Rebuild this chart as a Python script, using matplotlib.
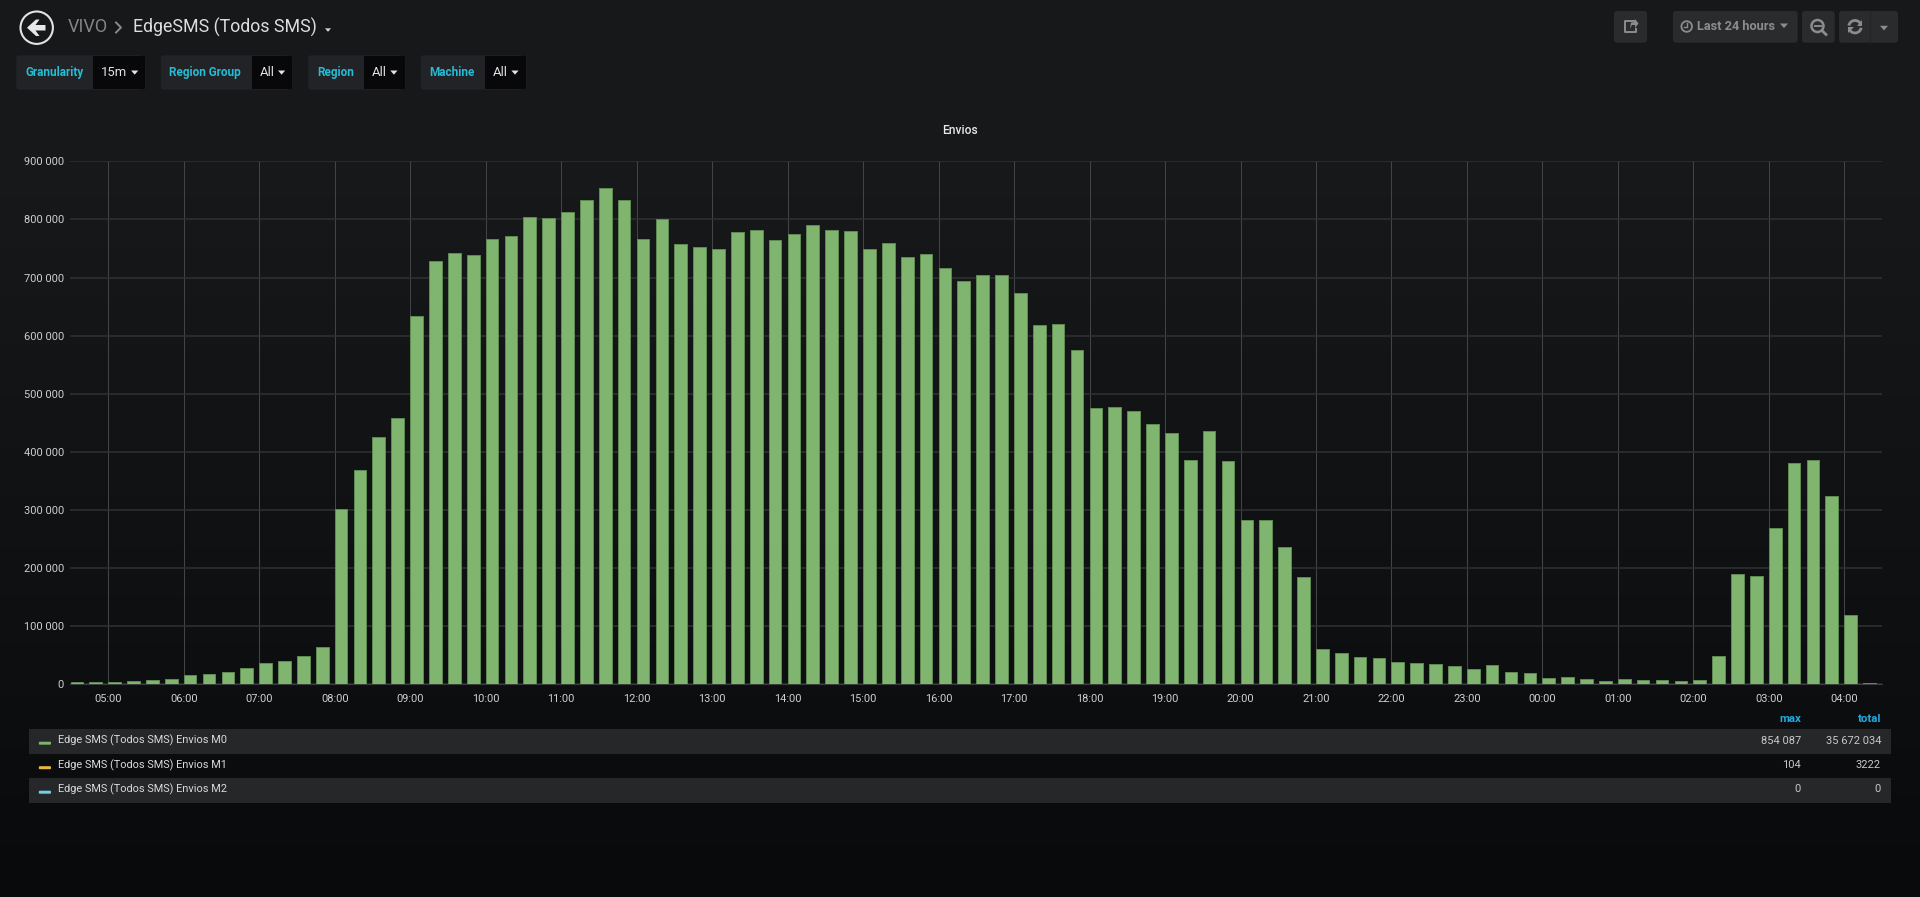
import numpy as np
import matplotlib
matplotlib.use("Agg")
import matplotlib.pyplot as plt
from matplotlib.patches import FancyBboxPatch, Rectangle, Circle, Arc, Polygon
from matplotlib.ticker import FuncFormatter

# -------------------------------
# DATA
# -------------------------------
envios_m0 = [
    3400, 3400, 4600, 5200, 6900, 8600, 15500, 17200, 21800, 27500, 36700, 40700,
    49300, 64700, 302000, 368400, 426000, 458000, 634000, 727800, 742000, 738000,
    765600, 772000, 805000, 801700, 812000, 832700, 854087, 834000, 766800, 800000,
    757000, 751900, 748400, 777600, 781000, 764500, 774800, 789700, 782000, 780500,
    749600, 758700, 735800, 739800, 716900, 693400, 703700, 704900, 673900, 617800,
    619500, 575900, 474800, 477400, 470500, 447800, 431600, 386800, 436600, 383900,
    283000, 283000, 235500, 185000, 60000, 54400, 47600, 45800, 37800, 36100,
    35000, 32000, 26400, 33200, 21200, 19500, 10900, 12000, 9200, 5700,
    8600, 6900, 6900, 5700, 7400, 48000, 189000, 186000, 268700, 381600,
    386000, 323700, 119000, 2900,
]
hour_labels = ["05:00", "06:00", "07:00", "08:00", "09:00", "10:00", "11:00", "12:00",
               "13:00", "14:00", "15:00", "16:00", "17:00", "18:00", "19:00", "20:00",
               "21:00", "22:00", "23:00", "00:00", "01:00", "02:00", "03:00", "04:00"]
y_ticks = [0, 100000, 200000, 300000, 400000, 500000, 600000, 700000, 800000, 900000]

legend_names = ["Edge SMS (Todos SMS) Envios M0", "Edge SMS (Todos SMS) Envios M1",
                "Edge SMS (Todos SMS) Envios M2"]
legend_colors = ["#7EB26D", "#EAB839", "#6ED0E0"]
legend_max = ["854 087", "104", "0"]
legend_total = ["35 672 034", "3222", "0"]

# label, value, label box left, split, right, label x, value x, caret x
variables = [
    ("Granularity", "15m", 16.3, 93, 145.7, 25, 101, 134.7),
    ("Region Group", "All", 160.8, 251.8, 292.7, 169.4, 259.6, 281.6),
    ("Region", "All", 308.2, 363.7, 405.7, 317.6, 371.8, 393.9),
    ("Machine", "All", 420.8, 484.5, 526.5, 429.4, 493, 515),
]

# -------------------------------
# STYLE
# -------------------------------
plt.rcParams["font.family"] = ["Roboto", "DejaVu Sans"]
W, H = 1920, 897
PX = 0.72  # px to pt at dpi 100
BAR_GREEN = "#80B570"
BAR_EDGE = "#5F8C53"
CYAN = "#24BCD6"
BLUE = "#23A8DC"
BTN = "#2A2B2D"
ICON = "#8C8C8C"

fig = plt.figure(figsize=(W / 100, H / 100), dpi=100)

# page background, pixel coordinates
ui = fig.add_axes([0, 0, 1, 1])
ui.axis("off")
fade = np.interp(np.linspace(0, 1, 300), [0, 0.22, 1], [0, 0, 1])[:, None, None]
top, bottom = np.array([23, 24, 26]), np.array([9, 10, 12])
ui.imshow((top + (bottom - top) * fade).astype(np.uint8), extent=[0, W, H, 0],
          aspect="auto", interpolation="bilinear")
ui.set_xlim(0, W)
ui.set_ylim(H, 0)


def box(x0, x1, y0, y1, color, r=3):
    ui.add_patch(FancyBboxPatch((x0, y0), x1 - x0, y1 - y0, boxstyle=f"round,pad=0,rounding_size={r}",
                                fc=color, ec="none"))


def caret(x, y, size, color):
    ui.add_patch(Polygon([(x - size, y - size * 0.55), (x + size, y - size * 0.55), (x, y + size * 0.6)],
                         fc=color, ec="none"))


# -------------------------------
# HEADER
# -------------------------------
ui.add_patch(Circle((36.7, 27.7), 16.2, fc="none", ec="#E3E3E3", lw=1.5))
ui.add_patch(Polygon([(27, 27.7), (36, 19.5), (39.5, 19.5), (35.5, 25), (45.5, 25), (45.5, 30.5), (35.5, 30.5),
                      (39.5, 36), (36, 36)], fc="#E8E8E8", ec="none"))
ui.text(67.3, 27.5, "VIVO", color="#858585", fontsize=18 * PX, va="center")
ui.plot([116, 121, 116], [22.5, 27.5, 32.5], color="#8A8A8A", lw=1.4)
ui.text(132.6, 27.5, "EdgeSMS (Todos SMS)", color="#DEDEDE", fontsize=17.7 * PX, va="center")
caret(328, 30, 3, "#D8D9DA")

for label, value, x0, x1, x2, tx, vx, cx in variables:
    box(x0, x2, 55.3, 89.7, "#212326")
    ui.add_patch(Rectangle((x1, 55.6), x2 - x1 - 2, 33.8, fc="#08080A", ec="none"))
    box(x2 - 6, x2 - 0.5, 55.6, 89.4, "#08080A", r=2)
    ui.text(tx, 72.5, label, color=CYAN, fontsize=11.8 * PX, va="center", fontweight="bold")
    ui.text(vx, 73, value, color="#E3E3E3", fontsize=13 * PX, va="center")
    caret(cx, 72.5, 3.6, "#E3E3E3")

# top right buttons
box(1614, 1647, 11, 42.7, BTN)
box(1673, 1797.7, 11, 42.7, BTN)
box(1802, 1834.7, 11, 42.7, BTN)
box(1839, 1898, 11, 42.7, BTN)
ui.plot([1870, 1870], [11, 42.7], color="#232426", lw=0.8)

# share icon
ui.plot([1635, 1625, 1625, 1636, 1636], [21, 21, 32.5, 32.5, 29], color=ICON, lw=1.4)
ui.add_patch(Polygon([(1630, 29), (1631, 22.5), (1635, 22), (1635, 19), (1638.5, 23.5), (1635, 28), (1635, 25),
                      (1632, 25)], fc=ICON, ec="none"))
# time picker
ui.add_patch(Circle((1686.7, 26.5), 5.3, fc="none", ec=ICON, lw=1.3))
ui.plot([1686.7, 1686.7, 1684], [23, 27, 27], color=ICON, lw=1)
ui.text(1696.7, 26.7, "Last 24 hours", color=ICON, fontsize=12.8 * PX, va="center", fontweight="bold")
caret(1784, 25.7, 4, ICON)
# zoom out icon
ui.add_patch(Circle((1817.5, 26), 6, fc="none", ec=ICON, lw=1.8))
ui.plot([1814.5, 1820.5], [26, 26], color=ICON, lw=1.4)
ui.plot([1822, 1826], [30.5, 34.5], color=ICON, lw=2)
# refresh icon
ui.add_patch(Arc((1855, 26.7), 12.5, 12.5, theta1=190, theta2=340, ec=ICON, lw=2))
ui.add_patch(Arc((1855, 26.7), 12.5, 12.5, theta1=10, theta2=160, ec=ICON, lw=2))
ui.add_patch(Polygon([(1862, 20), (1862, 26.5), (1856.5, 26.5)], fc=ICON, ec="none"))
ui.add_patch(Polygon([(1848, 33.5), (1848, 27), (1853.5, 27)], fc=ICON, ec="none"))
caret(1884, 28, 4, ICON)

# -------------------------------
# CHART
# -------------------------------
ax_left, ax_right, ax_top, ax_bottom = 70, 1882, 161.3, 684.3
ax = fig.add_axes([ax_left / W, 1 - ax_bottom / H, (ax_right - ax_left) / W, (ax_bottom - ax_top) / H])
ax.patch.set_alpha(0)

hours = np.arange(len(envios_m0)) * 0.25 - 0.5
ax.bar(hours, envios_m0, width=0.168, align="edge", color=BAR_GREEN, edgecolor=BAR_EDGE,
       linewidth=0.7, zorder=3)

hour_ticks = np.arange(len(hour_labels))
ax.set_xticks(hour_ticks)
ax.set_xticklabels(hour_labels)
ax.set_yticks(y_ticks)
ax.yaxis.set_major_formatter(FuncFormatter(lambda v, _: f"{int(v):,}".replace(",", " ")))
# 05:00 sits at pixel 108.3, one hour is 75.48 pixels
ax.set_xlim((ax_left - 108.3) / 75.48, (ax_right - 108.3) / 75.48)
ax.set_ylim(0, 900000)

ax.grid(axis="x", color="#434446", linewidth=0.75, zorder=0)
ax.grid(axis="y", color="#303133", linewidth=1.1, zorder=0)
ax.set_axisbelow(True)
for name in ["top", "left", "right"]:
    ax.spines[name].set_visible(False)
ax.spines["bottom"].set_color("#3C3D3F")
ax.spines["bottom"].set_linewidth(0.8)
ax.tick_params(axis="both", length=0, labelsize=11 * PX, labelcolor="#CFCFCF")
ax.tick_params(axis="x", pad=7)
ax.tick_params(axis="y", pad=6 * PX)
ax.set_title("Envios", color="#E9E9E9", fontsize=12 * PX, fontweight="medium", x=0.4914, y=1, pad=20)

# -------------------------------
# LEGEND
# -------------------------------
ui.text(1801, 719.5, "max", color=BLUE, fontsize=11.5 * PX, fontweight="bold", ha="right", va="center")
ui.text(1881, 719.5, "total", color=BLUE, fontsize=11.5 * PX, fontweight="bold", ha="right", va="center")
row_tops = [729, 754, 778]
row_bottoms = [754, 778, 803]
for i, name in enumerate(legend_names):
    if i != 1:
        ui.add_patch(Rectangle((29, row_tops[i]), 1862, row_bottoms[i] - row_tops[i], fc="#262729", ec="none"))
    mid = (row_tops[i] + row_bottoms[i]) / 2
    box(38.8, 51, mid + 0.2, mid + 3.2, legend_colors[i], r=1)
    ui.text(58, mid - 1, name, color="#D8D9DA", fontsize=11 * PX, va="center")
    ui.text(1801, mid - 1, legend_max[i], color="#C8C8C8", fontsize=11.1 * PX, ha="right", va="center")
    ui.text(1881, mid - 1, legend_total[i], color="#C8C8C8", fontsize=11.1 * PX, ha="right", va="center")

fig.savefig("out.png", dpi=100, facecolor="#161719")
